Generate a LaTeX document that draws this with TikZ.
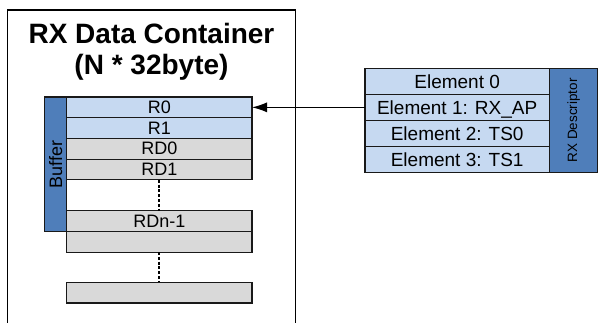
\documentclass[tikz,border=0pt]{standalone}
\usepackage{fontspec}
\setmainfont{Liberation Sans}
\usetikzlibrary{positioning, arrows.meta}
\definecolor{rxblue}{HTML}{C6D9F1}
\definecolor{rxgray}{HTML}{D9D9D9}
\definecolor{rxdark}{HTML}{4F7EBA}

\begin{document}
\begin{tikzpicture}[x=1pt,y=-1pt,
    slot/.style={draw=black!90, line width=1.1pt, outer sep=0pt, inner sep=0pt,
      minimum width=185.3pt, minimum height=20.7pt, font=\fontsize{18}{20}\selectfont},
    elem/.style={draw=black!90, line width=1.1pt, outer sep=0pt, inner sep=0pt, fill=rxblue,
      minimum width=184.3pt, minimum height=26pt, text height=13.6pt, text depth=0pt,
      font=\fontsize{19}{21}\selectfont},
    bar/.style={draw=black!90, line width=1.1pt, outer sep=0pt, inner sep=0pt, fill=rxdark},
    gap/.style={line width=2.2pt, dash pattern=on 3pt off 1.8pt}]
    \useasboundingbox (0,0) rectangle (598,323);
    % container frame, open at the bottom
    \draw[line width=1.1pt] (7.3,323) -- (7.3,10) -- (295.7,10) -- (295.7,323);
    \node[at={(151.5,22.6)}, anchor=north, inner sep=0pt, align=center,
      font=\bfseries\fontsize{28}{31}\selectfont] (title) {RX Data Container\\(N * 32byte)};
    % buffer rows
    \foreach \n/\t/\c [count=\i from 0] in {r0/R0/rxblue, r1/R1/rxblue, rd0/RD0/rxgray, rd1/RD1/rxgray}
    \node[slot, fill=\c, at={(159.35,{107.35+20.7*\i})}] (\n) {\t};
    \node[slot, fill=rxgray, at={(159.35,221.05)}] (rdn) {RDn-1};
    \node[slot, fill=rxgray, below=0pt of rdn] (rdx) {};
    \node[slot, fill=rxgray, at={(159.35,292.65)}] (rdend) {};
    \draw[gap] (rd1.south) -- (rdn.north);
    \draw[gap] (rdx.south) -- (rdend.north);
    \node[bar, anchor=north east, at=(r0.north west), minimum width=22pt, minimum height=134.4pt] (buf) {};
    \node[rotate=90, font=\fontsize{18}{20}\selectfont] (buflbl) at (buf) {Buffer};
    % descriptor
    \foreach \t [count=\i from 0] in {Element 0, Element 1: RX\_AP, Element 2: TS0, Element 3: TS1}
    \node[elem, at={(457.15,{81.35+26*\i})}] (el\i) {\t};
    \node[bar, anchor=north west, at=(el0.north east), minimum width=48.7pt, minimum height=104pt] (desc) {};
    \node[rotate=90, font=\fontsize{13.5}{15}\selectfont] (desclbl) at (desc) {RX Descriptor};
    \draw[-{Latex[length=15pt,width=10pt]}, line width=1.1pt] (el1.west) -- (r0.east);
\end{tikzpicture}
\end{document}
